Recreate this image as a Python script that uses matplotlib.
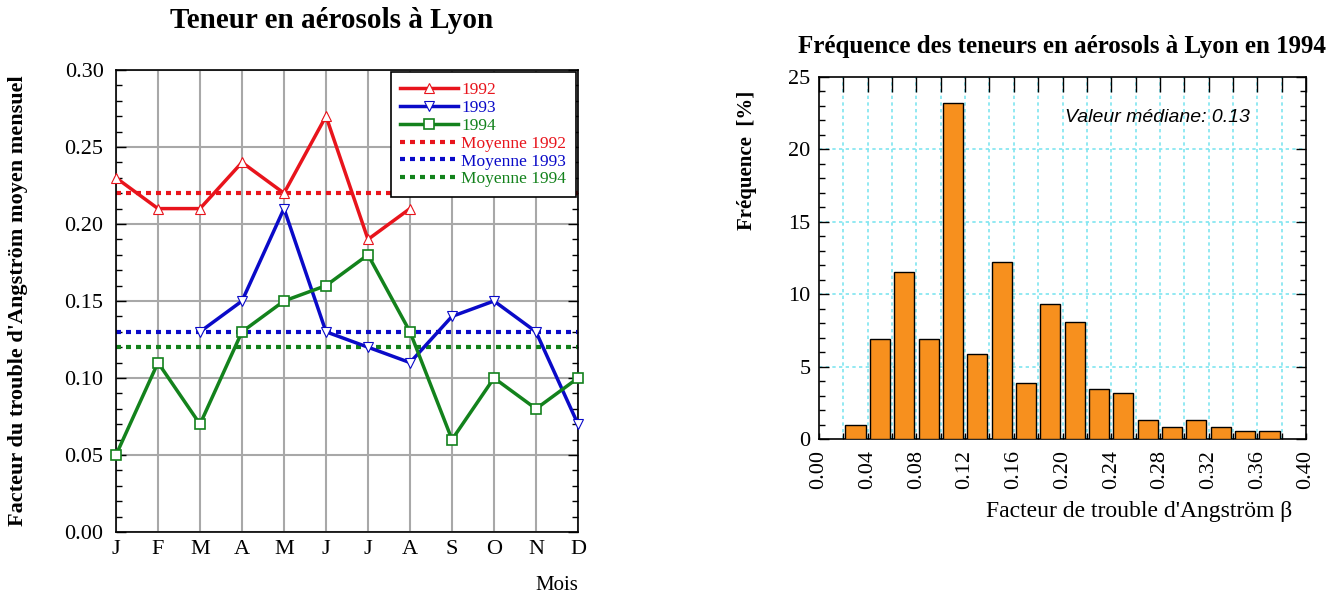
import numpy as np
import matplotlib.pyplot as plt
from matplotlib.ticker import MultipleLocator

plt.rcParams['font.family'] = ['Liberation Serif', 'DejaVu Serif']

# left chart data
months = ['J', 'F', 'M', 'A', 'M', 'J', 'J', 'A', 'S', 'O', 'N', 'D']
y1992 = [0.23, 0.21, 0.21, 0.24, 0.22, 0.27, 0.19, 0.21, np.nan, np.nan, np.nan, np.nan]
y1993 = [np.nan, np.nan, 0.13, 0.15, 0.21, 0.13, 0.12, 0.11, 0.14, 0.15, 0.13, 0.07]
y1994 = [0.05, 0.11, 0.07, 0.13, 0.15, 0.16, 0.18, 0.13, 0.06, 0.10, 0.08, 0.10]
means = {'1992': 0.22, '1993': 0.13, '1994': 0.12}

# right chart data (bin centres, %)
beta = [0.03, 0.05, 0.07, 0.09, 0.11, 0.13, 0.15, 0.17, 0.19,
        0.21, 0.23, 0.25, 0.27, 0.29, 0.31, 0.33, 0.35, 0.37]
freq = [1.0, 6.9, 11.5, 6.9, 23.2, 5.9, 12.2, 3.9, 9.3,
        8.1, 3.45, 3.2, 1.3, 0.8, 1.3, 0.8, 0.55, 0.55]

red, blue, green = '#e8141c', '#0a0ac8', '#13821c'

W, H = 1336, 603
fig = plt.figure(figsize=(W / 100, H / 100), dpi=100)

def px_axes(l, t, r, b):
    return fig.add_axes([l / W, 1 - b / H, (r - l) / W, (b - t) / H])

# ---------------- left
ax = px_axes(116, 70, 578, 532)
x = np.arange(12)
for name, col in zip(['1992', '1993', '1994'], [red, blue, green]):
    ax.axhline(means[name], color=col, lw=3, ls=(0, (1.2, 1.2)),
               label='Moyenne ' + name, zorder=2)
ax.plot(x, y1992, color=red, lw=2.5, marker='^', ms=7, mfc='white', mec=red,
        mew=0.8, label='1992', zorder=3, clip_on=False)
ax.plot(x, y1993, color=blue, lw=2.5, marker='v', ms=7, mfc='white', mec=blue,
        mew=0.8, label='1993', zorder=3, clip_on=False)
ax.plot(x, y1994, color=green, lw=2.5, marker='s', ms=7, mfc='white', mec=green,
        mew=1.2, label='1994', zorder=3, clip_on=False)

ax.set_xlim(0, 11)
ax.set_ylim(0, 0.30)
ax.set_xticks(x)
ax.set_xticklabels(months)
ax.yaxis.set_major_locator(MultipleLocator(0.05))
ax.yaxis.set_minor_locator(MultipleLocator(0.01))
ax.yaxis.set_major_formatter(plt.FormatStrFormatter('%.2f'))
ax.grid(True, color='#a8a8a8', lw=1.5)
ax.set_axisbelow(True)
ax.tick_params(direction='in', which='both', left=True, right=True,
               top=False, bottom=False, labelsize=16, length=7, width=1)
ax.tick_params(which='minor', length=4)
ax.tick_params(axis='x', pad=6)
ax.tick_params(axis='y', pad=9)
for s in ax.spines.values():
    s.set_linewidth(1.2)
ax.set_title('Teneur en aérosols à Lyon', fontsize=21, fontweight='bold',
             pad=30, x=0.467)
ax.set_ylabel("Facteur du trouble d'Angström moyen mensuel", fontsize=16,
              fontweight='bold')
ax.yaxis.set_label_coords(-0.19, 0.5)
ax.set_xlabel('Mois', fontsize=15, loc='right', labelpad=12)

h, l = ax.get_legend_handles_labels()
order = [3, 4, 5, 0, 1, 2]
leg = ax.legend([h[i] for i in order], [l[i] for i in order],
                loc='upper right', bbox_to_anchor=(0.995, 0.995),
                fontsize=12.5, handlelength=3.3, handletextpad=0.2,
                labelspacing=0.1, borderpad=0.55, fancybox=False,
                framealpha=1, edgecolor='black', borderaxespad=0)
leg.get_frame().set_linewidth(1.2)
for t, c in zip(leg.get_texts(), [red, blue, green, red, blue, green]):
    t.set_color(c)
leg.set_zorder(5)

# ---------------- right
ax2 = px_axes(819, 77, 1306, 439)
ax2.bar(beta, freq, width=0.0165, color='#f7901e', edgecolor='black',
        lw=1.0, zorder=3)
ax2.set_xlim(0, 0.40)
ax2.set_ylim(0, 25)
ax2.set_xticks(np.arange(0, 0.401, 0.04))
ax2.set_xticklabels(['%.2f' % v for v in np.arange(0, 0.401, 0.04)],
                    rotation=90)
ax2.xaxis.set_minor_locator(MultipleLocator(0.02))
ax2.yaxis.set_major_locator(MultipleLocator(5))
ax2.yaxis.set_minor_locator(MultipleLocator(1))
for gx in np.arange(0.02, 0.39, 0.02):
    ax2.axvline(gx, color='#7fe5f0', lw=1.2, ls=(0, (2, 2)), zorder=1)
for gy in [5, 10, 15, 20]:
    ax2.axhline(gy, color='#7fe5f0', lw=1.2, ls=(0, (2, 2)), zorder=1)
ax2.tick_params(direction='in', which='both', left=True, right=True,
                top=True, bottom=True, labelsize=16, width=1)
ax2.tick_params(axis='y', which='major', length=7, pad=6)
ax2.tick_params(axis='y', which='minor', length=4)
ax2.tick_params(axis='x', which='both', length=4, pad=8)
for t in ax2.xaxis.get_ticklines(minor=True)[1::2] + ax2.xaxis.get_ticklines()[1::2]:
    t.set_markersize(11)
for s in ax2.spines.values():
    s.set_linewidth(1.2)
ax2.set_title('Fréquence des teneurs en aérosols à Lyon en 1994', fontsize=18,
              fontweight='bold', pad=17)
ax2.set_ylabel('Fréquence  [%]', fontsize=15, fontweight='bold')
ax2.yaxis.set_label_coords(-0.127, 0.77)
ax2.set_xlabel("Facteur de trouble d'Angström β", fontsize=17, loc='right')
ax2.xaxis.set_label_coords(0.971, -0.171)
ax2.text(0.505, 0.887, 'Valeur médiane: 0.13', transform=ax2.transAxes,
         fontsize=14, style='italic', family='Liberation Sans', va='center')

fig.savefig('out.png', dpi=100)
